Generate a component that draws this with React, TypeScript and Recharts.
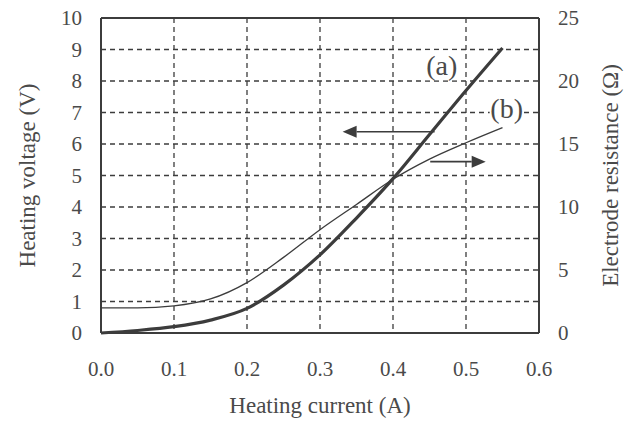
import React from 'react';
import {
  LineChart, Line, XAxis, YAxis, CartesianGrid, ReferenceLine, ReferenceDot
} from 'recharts';

// heating current (A)
const current = [0, 0.05, 0.1, 0.15, 0.2, 0.25, 0.3, 0.35, 0.4, 0.45, 0.5, 0.55];
// (a) heating voltage (V), left axis
const voltage = [0, 0.08, 0.2, 0.41, 0.78, 1.52, 2.48, 3.65, 4.9, 6.3, 7.7, 9.05];
// (b) electrode resistance (ohm), right axis
const resistance = [2.0, 2.0, 2.15, 2.7, 4.0, 6.0, 8.2, 10.2, 12.2, 13.8, 15.1, 16.3];

const xTicks = [0, 0.1, 0.2, 0.3, 0.4, 0.5, 0.6];
const leftTicks = [0, 1, 2, 3, 4, 5, 6, 7, 8, 9, 10];
const rightTicks = [0, 5, 10, 15, 20, 25];

const data = current.map((c, i) => ({ current: c, a: voltage[i], b: resistance[i] }));

const INK = '#3c3c3c';
const TEXT = '#4a4a4a';
const FONT = '"Liberation Serif", "DejaVu Serif", serif';

const Arrow = (props: any) => {
  const { x1, y1, x2, y2 } = props;
  const dir = x2 > x1 ? 1 : -1;
  const head = 14;
  return (
    <g>
      <line x1={x1} y1={y1} x2={x2 - dir * head} y2={y2} stroke={INK} strokeWidth={1.6} />
      <polygon
        points={`${x2},${y2} ${x2 - dir * head},${y2 - 6} ${x2 - dir * head},${y2 + 6}`}
        fill={INK}
      />
    </g>
  );
};

// curve tag with a white box behind it, so gridlines stop at the text
const tag = (text: string) => (props: any) => {
  const { viewBox } = props;
  const cx = viewBox.x + viewBox.width / 2;
  const cy = viewBox.y + viewBox.height / 2;
  return (
    <g>
      <rect x={cx - 17} y={cy - 15} width={34} height={30} fill="#fff" />
      <text x={cx} y={cy} textAnchor="middle" dominantBaseline="central"
        fontFamily={FONT} fontSize={28} fill={TEXT}>{text}</text>
    </g>
  );
};

const tickStyle = { fontFamily: FONT, fontSize: 21, fill: TEXT };
const titleStyle = { fontFamily: FONT, fontSize: 23, fill: TEXT };

export default function App() {
  return (
    <div style={{ position: 'absolute', left: 0, top: 0, width: 640, height: 427, background: '#fff' }}>
      <LineChart width={640} height={427} data={data} margin={{ top: 18, right: 10, bottom: 10, left: 10 }}>
        <CartesianGrid
          yAxisId="left"
          stroke={INK}
          strokeDasharray="5 4"
          strokeWidth={1.3}
          horizontalValues={leftTicks}
          verticalValues={xTicks}
        />
        <XAxis
          dataKey="current"
          type="number"
          domain={[0, 0.6]}
          ticks={xTicks}
          tickFormatter={(v: number) => v.toFixed(1)}
          tick={tickStyle}
          tickLine={false}
          tickMargin={22}
          axisLine={{ stroke: INK, strokeWidth: 2 }}
          height={84}
          label={{ value: 'Heating current  (A)', position: 'insideBottom', offset: 4, style: titleStyle }}
        />
        <YAxis
          yAxisId="left"
          domain={[0, 10]}
          ticks={leftTicks}
          tick={tickStyle}
          tickLine={false}
          tickMargin={13}
          axisLine={{ stroke: INK, strokeWidth: 2 }}
          width={91}
          label={{ value: 'Heating voltage (V)', angle: -90, position: 'insideLeft', offset: 17, textAnchor: 'middle', style: titleStyle }}
        />
        <YAxis
          yAxisId="right"
          orientation="right"
          domain={[0, 25]}
          ticks={rightTicks}
          tick={tickStyle}
          tickLine={false}
          tickMargin={13}
          axisLine={{ stroke: INK, strokeWidth: 2 }}
          width={91}
          label={{ value: 'Electrode resistance (Ω)', angle: -90, position: 'insideRight', offset: 20, textAnchor: 'middle', style: titleStyle }}
        />
        <ReferenceLine yAxisId="left" y={10} stroke={INK} strokeWidth={2} />
        <Line
          yAxisId="left"
          dataKey="a"
          type="monotone"
          stroke={INK}
          strokeWidth={3.2}
          dot={false}
          isAnimationActive={false}
        />
        <Line
          yAxisId="right"
          dataKey="b"
          type="monotone"
          stroke={INK}
          strokeWidth={1.3}
          dot={false}
          isAnimationActive={false}
        />
        <ReferenceLine
          yAxisId="left"
          segment={[{ x: 0.457, y: 6.39 }, { x: 0.331, y: 6.39 }]}
          shape={Arrow}
        />
        <ReferenceLine
          yAxisId="left"
          segment={[{ x: 0.451, y: 5.44 }, { x: 0.527, y: 5.44 }]}
          shape={Arrow}
        />
        <ReferenceDot
          yAxisId="left"
          x={0.4667}
          y={8.5}
          r={0}
          fill="none"
          stroke="none"
          label={{ content: tag('(a)') }}
        />
        <ReferenceDot
          yAxisId="left"
          x={0.5557}
          y={7.13}
          r={0}
          fill="none"
          stroke="none"
          label={{ content: tag('(b)') }}
        />
      </LineChart>
    </div>
  );
}
